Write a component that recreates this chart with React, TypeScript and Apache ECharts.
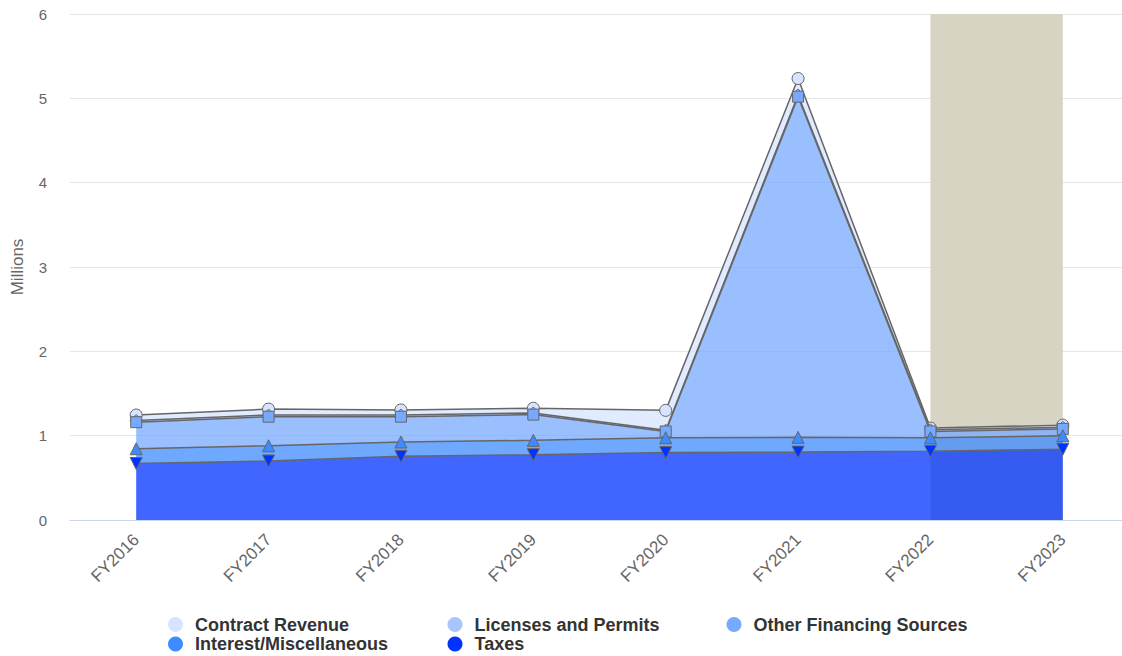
import React, { useEffect, useRef } from "react";
import * as echarts from "echarts";

const categories = ["FY2016", "FY2017", "FY2018", "FY2019", "FY2020", "FY2021", "FY2022", "FY2023"];
const taxes = [0.67, 0.70, 0.755, 0.775, 0.80, 0.805, 0.815, 0.84];
const interestMisc = [0.175, 0.18, 0.17, 0.17, 0.175, 0.175, 0.16, 0.16];
const otherFinancing = [0.315, 0.345, 0.30, 0.305, 0.075, 4.04, 0.075, 0.08];
const licensesPermits = [0.02, 0.02, 0.02, 0.02, 0.015, 0.02, 0.02, 0.02];
const contractRevenue = [0.065, 0.07, 0.06, 0.055, 0.235, 0.195, 0.02, 0.025];
const bandFrom = "FY2022";
const bandTo = "FY2023";
const yTicks = [0, 1, 2, 3, 4, 5, 6];

const seriesDefs = [
  { name: "Taxes", data: taxes, color: "#0033ff", symbol: "triangle", rotate: 180, z: 10 },
  { name: "Interest/Miscellaneous", data: interestMisc, color: "#3d8bff", symbol: "triangle", rotate: 0, z: 9 },
  { name: "Other Financing Sources", data: otherFinancing, color: "#77a9ff", symbol: "rect", rotate: 0, z: 8 },
  { name: "Licenses and Permits", data: licensesPermits, color: "#a9c5ff", symbol: "diamond", rotate: 0, z: 7 },
  { name: "Contract Revenue", data: contractRevenue, color: "#d6e4ff", symbol: "circle", rotate: 0, z: 6 },
];

const legendPos = [
  { name: "Contract Revenue", cx: 175.5, cy: 626 },
  { name: "Licenses and Permits", cx: 455, cy: 626 },
  { name: "Other Financing Sources", cx: 734, cy: 626 },
  { name: "Interest/Miscellaneous", cx: 175.5, cy: 645.5 },
  { name: "Taxes", cx: 455, cy: 645.5 },
];

export default function App() {
  const ref = useRef<HTMLDivElement>(null);
  useEffect(() => {
    document.body.style.margin = "0";
    if (!ref.current) return;
    const chart = echarts.init(ref.current, undefined, { renderer: "svg" });
    const series: any[] = seriesDefs.map((s) => ({
      name: s.name,
      type: "line",
      stack: "total",
      data: s.data,
      z: s.z,
      symbol: s.symbol,
      symbolRotate: s.rotate,
      symbolSize: s.symbol === "rect" ? 11 : 12,
      showSymbol: true,
      showAllSymbol: true,
      color: s.color,
      lineStyle: { color: "#666666", width: 1.5 },
      itemStyle: { color: s.color, borderColor: "#666666", borderWidth: 1 },
      areaStyle: { color: s.color, opacity: 0.75 },
      emphasis: { disabled: true },
    }));
    series.push({
      name: "band",
      type: "line",
      data: [],
      z: 1,
      silent: true,
      markArea: {
        silent: true,
        itemStyle: { color: "#d8d4c3", opacity: 1 },
        data: [[{ xAxis: bandFrom }, { xAxis: bandTo }]],
      },
    });
    chart.setOption({
      animation: false,
      textStyle: { fontFamily: "Liberation Sans, Arial, sans-serif" },
      grid: { left: 70, top: 14, width: 1059, height: 506, outerBoundsMode: "none", containLabel: false },
      legend: legendPos.map((l) => ({
        data: [{ name: l.name }],
        left: l.cx - 7.5,
        top: l.cy - 10.5,
        padding: 0,
        icon: "circle",
        itemWidth: 29,
        itemHeight: 15,
        itemStyle: { borderWidth: 0 },
        textStyle: { fontSize: 18, fontWeight: "bold", color: "#333333", padding: [0, 0, 0, 0] },
      })),
      xAxis: {
        type: "category",
        data: categories,
        boundaryGap: true,
        axisLine: { lineStyle: { color: "#ccd6eb" } },
        axisTick: { show: false },
        axisLabel: { rotate: 45, color: "#666666", fontSize: 17, margin: 17, interval: 0 },
        splitLine: { show: false },
      },
      yAxis: {
        type: "value",
        min: yTicks[0],
        max: yTicks[yTicks.length - 1],
        interval: 1,
        name: "Millions",
        nameLocation: "middle",
        nameGap: 44,
        nameTextStyle: { color: "#666666", fontSize: 17 },
        axisLine: { show: false },
        axisTick: { show: false },
        axisLabel: { color: "#666666", fontSize: 15, margin: 23 },
        splitLine: { lineStyle: { color: "#e6e6e6" } },
      },
      series,
    });
    return () => chart.dispose();
  }, []);
  return <div ref={ref} style={{ width: 1122, height: 656, overflow: "hidden" }} />;
}
